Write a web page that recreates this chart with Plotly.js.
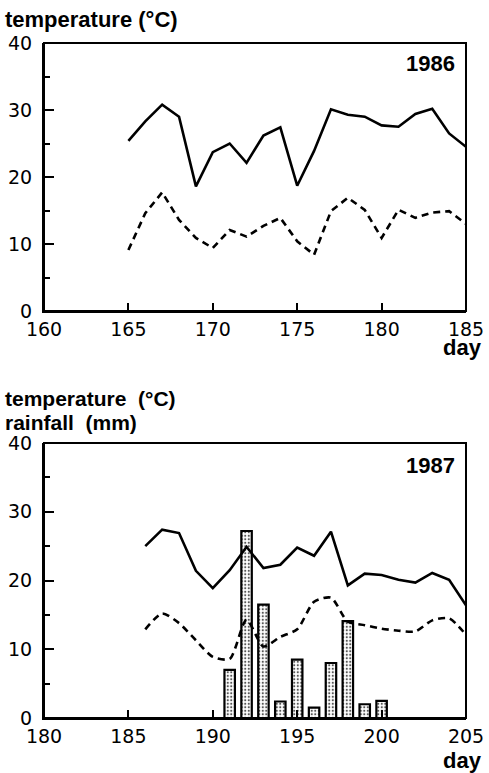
<!DOCTYPE html>
<html>
<head>
<meta charset="utf-8">
<script src="https://cdn.plot.ly/plotly-3.0.1.min.js"></script>
<style>html,body{margin:0;padding:0;background:#fff;}#chart{width:489px;height:773px;}</style>
</head>
<body>
<div id="chart"></div>
<script>
// ---- data ----
var days1986 = [165,166,167,168,169,170,171,172,173,174,175,176,177,178,179,180,181,182,183,184,185];
var tmax1986 = [25.4,28.3,30.8,29.0,18.6,23.7,25.0,22.1,26.2,27.4,18.7,23.9,30.1,29.3,29.0,27.7,27.5,29.4,30.2,26.5,24.5];
var tmin1986 = [9.1,14.6,17.7,13.6,10.9,9.4,12.1,11.1,12.7,13.9,10.4,8.4,14.9,16.9,15.1,10.9,15.1,13.9,14.7,14.9,13.0];

var days1987 = [186,187,188,189,190,191,192,193,194,195,196,197,198,199,200,201,202,203,204,205];
var tmax1987 = [25.0,27.4,26.9,21.4,18.9,21.5,24.9,21.8,22.3,24.8,23.6,27.1,19.3,21.0,20.8,20.1,19.7,21.1,20.1,16.4];
var tmin1987 = [12.9,15.2,13.8,11.3,8.9,8.6,14.3,10.4,11.8,12.9,16.9,17.5,14.0,13.5,13.0,12.7,12.6,14.2,14.5,12.1];

var rainDays1987 = [191,192,193,194,195,196,197,198,199,200];
var rain1987 = [7.0,27.2,16.5,2.4,8.5,1.5,8.0,14.1,2.0,2.5];

var xTicks1986 = [160,165,170,175,180,185];
var xTicks1987 = [180,185,190,195,200,205];
var yTicks = [0,10,20,30,40];

// ---- layout helpers ----
var W = 489, H = 773;
var M = {l:44, r:23, t:43, b:55};
var PW = W - M.l - M.r, PH = H - M.t - M.b;
function px(x){ return (x - M.l) / PW; }
function py(y){ return (H - M.b - y) / PH; }

var tickFont = {family:'DejaVu Sans, sans-serif', size:19, color:'#000'};
var boldFont = {family:'Liberation Sans, Arial, sans-serif', size:22, color:'#000', weight:'bold'};
var boldSmall = {family:'Liberation Sans, Arial, sans-serif', size:21, color:'#000', weight:'bold'};

function xax(range, ticks, anchor){
  return {
    range: range, anchor: anchor, tickvals: ticks, ticktext: ticks.map(String),
    ticks:'inside', ticklen:8, tickwidth:2, tickcolor:'#000',
    showline:true, linecolor:'#000', linewidth:2,
    showgrid:false, zeroline:false, tickfont: tickFont, fixedrange:true
  };
}
function yax(domain, anchor){
  return {
    domain: domain, anchor: anchor, range:[0,40], tickvals: yTicks, ticktext: yTicks.map(String),
    ticks:'inside', ticklen:10, tickwidth:2, tickcolor:'#000',
    minor:{tickvals:[5,15,25,35], ticks:'inside', ticklen:6, tickwidth:2, tickcolor:'#000'},
    showline:true, linecolor:'#000', linewidth:2,
    showgrid:false, zeroline:false, tickfont: tickFont, ticklabelstandoff:6, fixedrange:true
  };
}

var lineW = 2.6;
var traces = [
  {type:'bar', x: rainDays1987, y: rain1987, xaxis:'x2', yaxis:'y2', width:0.62,
   marker:{color:'#e6e6e6', line:{color:'#000', width:2.2},
           pattern:{shape:'.', bgcolor:'#ffffff', fgcolor:'#555', size:3.5, solidity:0.3}},
   showlegend:false, hoverinfo:'skip'},
  {type:'scatter', mode:'lines', x: days1986, y: tmax1986, xaxis:'x', yaxis:'y',
   line:{color:'#000', width:lineW}, showlegend:false},
  {type:'scatter', mode:'lines', x: days1986, y: tmin1986, xaxis:'x', yaxis:'y',
   line:{color:'#000', width:lineW, dash:'7px,5px'}, showlegend:false},
  {type:'scatter', mode:'lines', x: days1987, y: tmax1987, xaxis:'x2', yaxis:'y2',
   line:{color:'#000', width:lineW}, showlegend:false},
  {type:'scatter', mode:'lines', x: days1987, y: tmin1987, xaxis:'x2', yaxis:'y2',
   line:{color:'#000', width:lineW, dash:'7px,5px', shape:'spline', smoothing:0.7}, showlegend:false}
];

var topBottom = py(311);
var botTop = py(443);

function ann(text, x, y, xanchor, font){
  return {text:text, xref:'paper', yref:'paper', x:px(x), y:py(y), xanchor:xanchor, yanchor:'middle', showarrow:false, font:font || boldFont};
}

var layout = {
  width: W, height: H,
  margin: M,
  paper_bgcolor:'#fff', plot_bgcolor:'rgba(0,0,0,0)',
  showlegend:false,
  xaxis: xax([160,185], xTicks1986, 'y'),
  yaxis: yax([topBottom, 1], 'x'),
  xaxis2: xax([180,205], xTicks1987, 'y2'),
  yaxis2: yax([0, botTop], 'x2'),
  shapes: [
    {type:'rect', xref:'x domain', yref:'y domain', x0:0, x1:1, y0:0, y1:1, line:{color:'#000', width:2}, layer:'above'},
    {type:'rect', xref:'x2 domain', yref:'y2 domain', x0:0, x1:1, y0:0, y1:1, line:{color:'#000', width:2}, layer:'above'}
  ],
  annotations: [
    ann('temperature (°C)', 3, 20, 'left'),
    ann('1986', 457, 63, 'right'),
    ann('day', 484, 347, 'right'),
    ann('temperature\u00a0\u00a0(°C)', 3, 399, 'left', boldSmall),
    ann('rainfall\u00a0\u00a0(mm)', 3, 422, 'left', boldSmall),
    ann('1987', 457, 465, 'right'),
    ann('day', 484, 760, 'right')
  ]
};

Plotly.newPlot('chart', traces, layout, {staticPlot:true, displayModeBar:false});
</script>
</body>
</html>
